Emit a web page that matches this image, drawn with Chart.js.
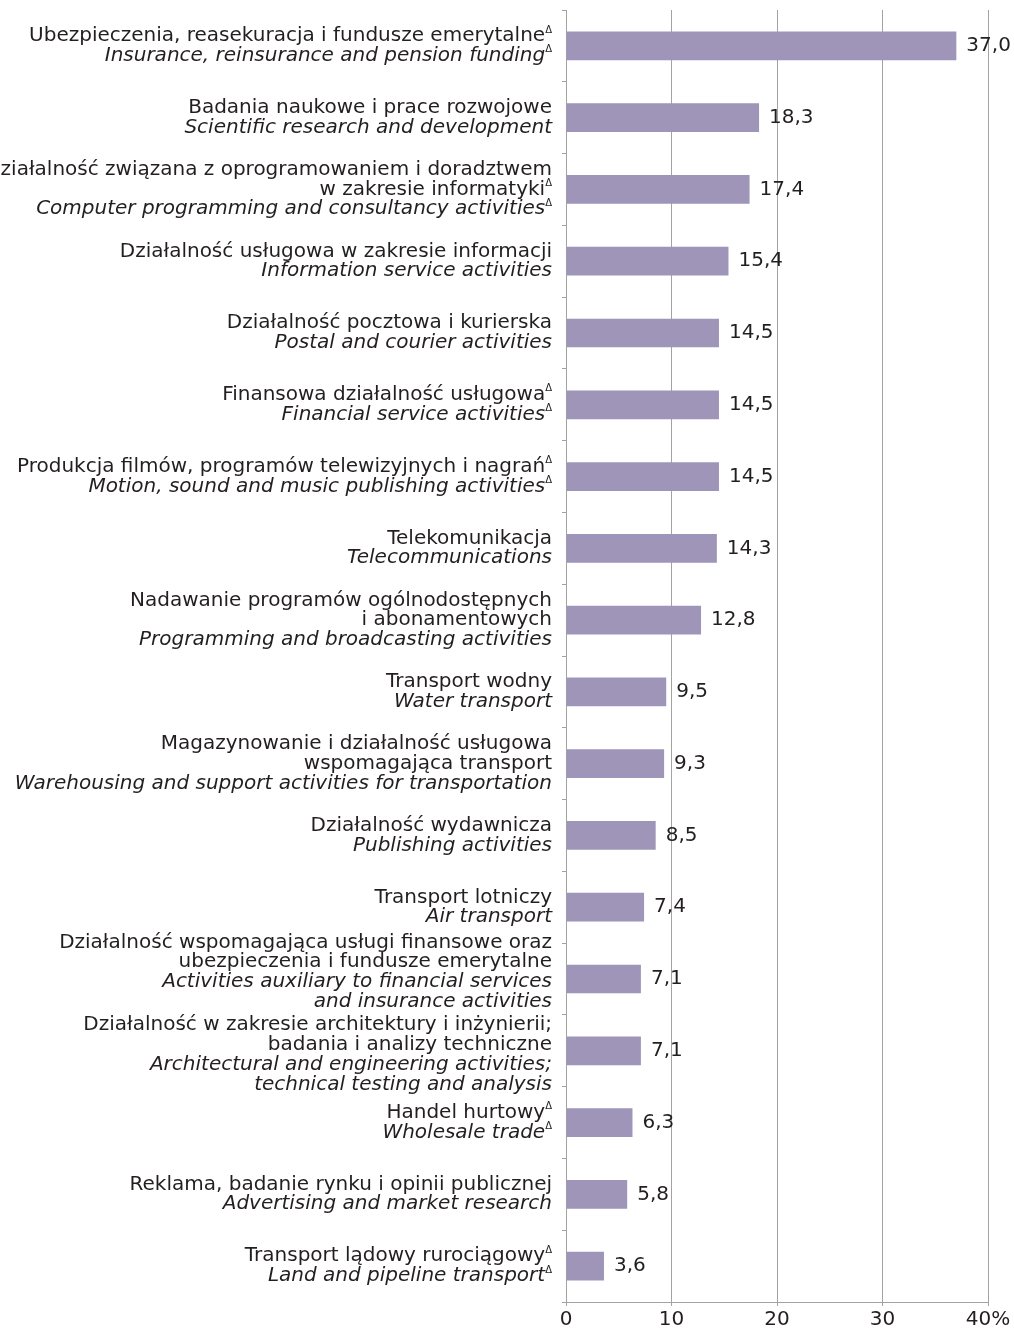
<!DOCTYPE html>
<html lang="pl">
<head>
  <meta charset="UTF-8">
  <title>Udział przedsiębiorstw według sekcji</title>
  <script src="https://cdn.jsdelivr.net/npm/chart.js@4/dist/chart.umd.min.js"></script>
  <style>
    body { margin: 0; background: #fff; }
    canvas { display: block; }
  </style>
</head>
<body>
  <canvas id="chart" width="1014" height="1334"></canvas>
  <script>
    // Polish names (regular) and English names (italic), one entry per section
    const namesPl = [
      ['Ubezpieczenia, reasekuracja i fundusze emerytalne'],
      ['Badania naukowe i prace rozwojowe'],
      ['Działalność związana z oprogramowaniem i doradztwem', 'w zakresie informatyki'],
      ['Działalność usługowa w zakresie informacji'],
      ['Działalność pocztowa i kurierska'],
      ['Finansowa działalność usługowa'],
      ['Produkcja filmów, programów telewizyjnych i nagrań'],
      ['Telekomunikacja'],
      ['Nadawanie programów ogólnodostępnych', 'i abonamentowych'],
      ['Transport wodny'],
      ['Magazynowanie i działalność usługowa', 'wspomagająca transport'],
      ['Działalność wydawnicza'],
      ['Transport lotniczy'],
      ['Działalność wspomagająca usługi finansowe oraz', 'ubezpieczenia i fundusze emerytalne'],
      ['Działalność w zakresie architektury i inżynierii;', 'badania i analizy techniczne'],
      ['Handel hurtowy'],
      ['Reklama, badanie rynku i opinii publicznej'],
      ['Transport lądowy rurociągowy']
    ];
    const namesEn = [
      ['Insurance, reinsurance and pension funding'],
      ['Scientific research and development'],
      ['Computer programming and consultancy activities'],
      ['Information service activities'],
      ['Postal and courier activities'],
      ['Financial service activities'],
      ['Motion, sound and music publishing activities'],
      ['Telecommunications'],
      ['Programming and broadcasting activities'],
      ['Water transport'],
      ['Warehousing and support activities for transportation'],
      ['Publishing activities'],
      ['Air transport'],
      ['Activities auxiliary to financial services', 'and insurance activities'],
      ['Architectural and engineering activities;', 'technical testing and analysis'],
      ['Wholesale trade'],
      ['Advertising and market research'],
      ['Land and pipeline transport']
    ];
    // sections marked with Δ
    const revised = [true, false, true, false, false, true, true, false, false,
                     false, false, false, false, false, false, true, false, true];
    const shares = [37.0, 18.3, 17.4, 15.4, 14.5, 14.5, 14.5, 14.3, 12.8,
                    9.5, 9.3, 8.5, 7.4, 7.1, 7.1, 6.3, 5.8, 3.6];
    const xTicks = [0, 10, 20, 30, 40];

    const TEXT = '#231f20';
    const GRID = '#a3a3a3';
    const FONT = '"DejaVu Sans", Verdana, sans-serif';
    const LABEL_RIGHT = 552;
    const LINE_H = 19.8;
    // the two four-line labels are pushed apart so they don't collide
    const labelShift = { 13: -7, 14: 4 };

    function fmt(v) {
      return v.toFixed(1).replace('.', ',');
    }

    // section names to the left of the axis, two languages, optional Δ mark
    const sectionLabels = {
      id: 'sectionLabels',
      afterDraw(chart) {
        const ctx = chart.ctx;
        const y = chart.scales.y;
        ctx.save();
        ctx.fillStyle = TEXT;
        ctx.textBaseline = 'middle';
        namesPl.forEach((pl, i) => {
          const en = namesEn[i];
          const lines = pl.map((t, k) => ({ t, italic: false, mark: revised[i] && k === pl.length - 1 }))
            .concat(en.map((t, k) => ({ t, italic: true, mark: revised[i] && k === en.length - 1 })));
          const cy = y.getPixelForValue(i) + (labelShift[i] || 0);
          let ly = cy - (lines.length - 1) / 2 * LINE_H;
          lines.forEach(line => {
            let right = LABEL_RIGHT;
            if (line.mark) {
              ctx.font = '10px ' + FONT;
              ctx.textAlign = 'right';
              ctx.fillText('Δ', right, ly - 6);
              right -= ctx.measureText('Δ').width;
            }
            ctx.font = (line.italic ? 'italic ' : '') + '20px ' + FONT;
            ctx.textAlign = 'right';
            ctx.fillText(line.t, right, ly);
            ly += LINE_H;
          });
        });
        ctx.restore();
      }
    };

    // value printed after each bar
    const valueLabels = {
      id: 'valueLabels',
      afterDatasetsDraw(chart) {
        const ctx = chart.ctx;
        const meta = chart.getDatasetMeta(0);
        ctx.save();
        ctx.font = '20px ' + FONT;
        ctx.fillStyle = TEXT;
        ctx.textAlign = 'left';
        ctx.textBaseline = 'middle';
        meta.data.forEach((bar, i) => {
          ctx.fillText(fmt(shares[i]), bar.x + 10, bar.y);
        });
        ctx.restore();
      }
    };

    new Chart(document.getElementById('chart'), {
      type: 'bar',
      data: {
        labels: namesPl.map(l => l.join(' ')),
        datasets: [{
          data: shares,
          backgroundColor: '#9f95b8',
          borderWidth: 0,
          barPercentage: 0.4,
          categoryPercentage: 1
        }]
      },
      options: {
        indexAxis: 'y',
        responsive: false,
        animation: false,
        layout: { padding: { top: 10, right: 26, left: 0, bottom: 0 } },
        plugins: {
          legend: { display: false },
          tooltip: { enabled: false }
        },
        scales: {
          x: {
            min: 0,
            max: 40,
            afterBuildTicks: scale => {
              scale.ticks = xTicks.map(v => ({ value: v }));
            },
            afterFit: scale => { scale.height = 32; },
            grid: { color: GRID, lineWidth: 1, tickLength: 4 },
            border: { color: GRID },
            ticks: {
              color: TEXT,
              padding: 2,
              font: { family: FONT, size: 20 },
              callback: v => v === 40 ? '40%' : String(v)
            }
          },
          y: {
            afterFit: scale => { scale.width = 566; },
            grid: { drawOnChartArea: false, color: GRID, tickLength: 4 },
            border: { color: GRID },
            ticks: { display: false }
          }
        }
      },
      plugins: [valueLabels, sectionLabels]
    });
  </script>
</body>
</html>
